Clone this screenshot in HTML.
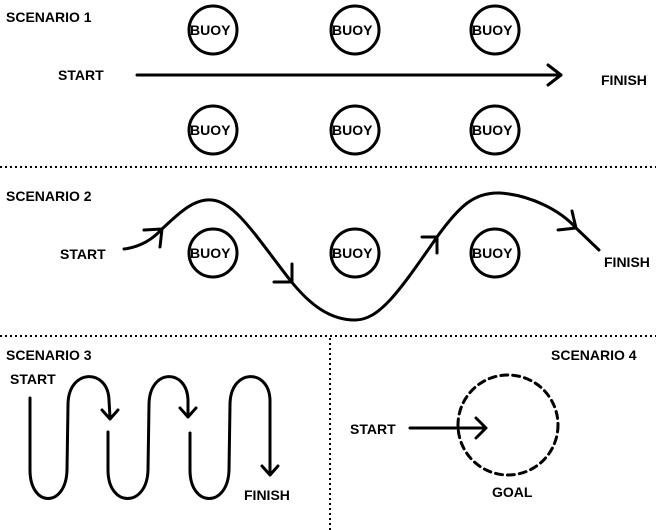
<!DOCTYPE html>
<html><head><style>
body{margin:0;background:#fff}
svg{display:block}
text{font-family:"Liberation Sans",Arial,sans-serif;font-weight:bold;font-size:14px;fill:#000}
.b{font-size:14px}
</style></head><body>
<svg width="656" height="530" viewBox="0 0 656 530">
<g fill="none" stroke="#000" stroke-width="3" stroke-linecap="round" stroke-linejoin="round">
<circle cx="213" cy="30" r="24"/><circle cx="355" cy="30" r="24"/><circle cx="495" cy="30" r="24"/>
<circle cx="213" cy="130" r="24"/><circle cx="355" cy="130" r="24"/><circle cx="495" cy="130" r="24"/>
<path d="M137 75 L561 75 M548 65 L561 75 L548 85"/>
<circle cx="213" cy="253" r="24"/><circle cx="355" cy="253" r="24"/><circle cx="495" cy="253" r="24"/>
<path d="M124 249 C140 247 152 240 162 229 C180 212 195 198 212 200 C235 202 255 235 290 280 C310 305 330 320 355 320 C380 320 400 290 437 237 C460 205 475 192 500 193 C530 195 560 210 576 228 L599 250"/>
<path d="M144 230 L162 229 L160 247"/>
<path d="M292 264 L292 282 L274 282"/>
<path d="M422 237 L437 237 L437 253"/>
<path d="M572 211 L576 228 L558 230"/>
<path d="M30 398 L30 470 C30 508 66 508 67 470 L68 405 C68 368 108 368 109 400 L110 418 M102 410 L110 419 L118 410"/>
<path d="M108 432 L108 470 C108 508 147 508 148 470 L149 405 C149 368 187 368 188 400 L188 416 M180 408 L188 417 L196 408"/>
<path d="M190 433 L190 470 C190 508 228 508 229 470 L230 405 C230 368 269 368 270 400 L270 474 M262 466 L270 475 L278 466"/>
<path d="M410 428 L486 428 M476 418 L486 428 L476 438"/>
<circle cx="508" cy="425" r="50" stroke-dasharray="7 5"/>
</g>
<g stroke="#000" stroke-width="2" stroke-dasharray="2 3">
<line x1="0" y1="167" x2="656" y2="167"/>
<line x1="0" y1="336" x2="656" y2="336"/>
<line x1="330" y1="338" x2="330" y2="530"/>
</g>
<text x="6" y="22">SCENARIO 1</text>
<text x="58" y="80">START</text>
<text x="601" y="85">FINISH</text>
<text x="190" y="35">BUOY</text><text x="332" y="35">BUOY</text><text x="472" y="35">BUOY</text>
<text x="190" y="135">BUOY</text><text x="332" y="135">BUOY</text><text x="472" y="135">BUOY</text>
<text x="6" y="201">SCENARIO 2</text>
<text x="60" y="259">START</text>
<text x="604" y="267">FINISH</text>
<text x="190" y="258">BUOY</text><text x="332" y="258">BUOY</text><text x="472" y="258">BUOY</text>
<text x="6" y="360">SCENARIO 3</text>
<text x="10" y="384">START</text>
<text x="244" y="500">FINISH</text>
<text x="551" y="360">SCENARIO 4</text>
<text x="350" y="434">START</text>
<text x="492" y="497">GOAL</text>
</svg>
</body></html>
